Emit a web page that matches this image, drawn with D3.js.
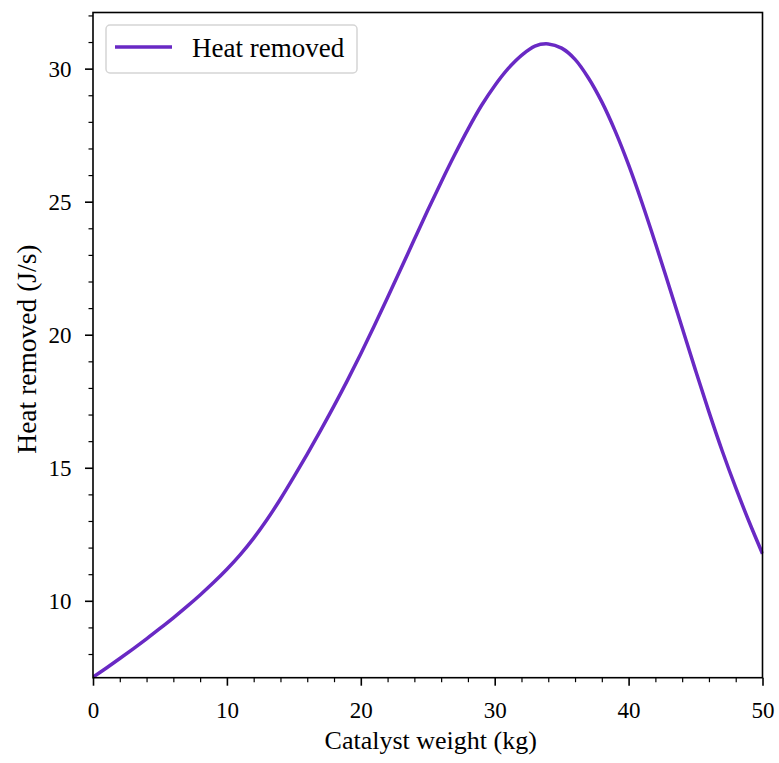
<!DOCTYPE html>
<html><head><meta charset="utf-8">
<script src="https://cdn.jsdelivr.net/npm/d3@7"></script>
<style>
body{margin:0;background:#fff}
svg{display:block}
text{font-family:"Liberation Serif","Times New Roman",serif;fill:#000}
</style>
</head><body>
<svg id="chart" width="779" height="763"></svg>
<script>
// ---- data ----
const catalystWeight = [0,1,2,3,4,5,6,7,8,9,10,11,12,13,14,15,16,17,18,19,20,21,22,23,24,25,
  26,27,28,29,30,31,32,33,34,35,36,37,38,39,40,41,42,43,44,45,46,47,48,49,50];
const heatRemoved = [7.13,7.475,7.83,8.195,8.57,8.96,9.36,9.78,10.22,10.685,11.185,11.735,12.355,13.055,13.825,14.655,
  15.515,16.405,17.325,18.285,19.285,20.325,21.395,22.485,23.585,24.675,25.735,26.755,27.72,28.605,29.36,30.0,30.5,
  30.85,30.93,30.77,30.35,29.65,28.75,27.65,26.38,24.96,23.44,21.86,20.26,18.66,17.1,15.62,14.25,12.97,11.77];
const xTicks = [0,10,20,30,40,50];
const xMinorTicks = [2,4,6,8,12,14,16,18,22,24,26,28,32,34,36,38,42,44,46,48];
const yTicks = [10,15,20,25,30];
const yMinorTicks = [8,9,11,12,13,14,16,17,18,19,21,22,23,24,26,27,28,29,31,32];
const seriesName = "Heat removed";
const xLabel = "Catalyst weight (kg)";
const yLabel = "Heat removed (J/s)";
const xDomain = [0,50];
const yDomain = [7.11,32.11];

// ---- layout ----
const L = 93, R = 762.5, T = 12.5, B = 677.7;
const lineColor = "#6929c4";
const svg = d3.select("#chart");

const x = d3.scaleLinear().domain(xDomain).range([L,R]);
const y = d3.scaleLinear().domain(yDomain).range([B,T]);

// clip
svg.append("defs").append("clipPath").attr("id","clip")
  .append("rect").attr("x",L).attr("y",T-2).attr("width",R-L+1).attr("height",B-T+3);

// line
const pts = catalystWeight.map((d,i)=>[d,heatRemoved[i]]);
const line = d3.line().x(d=>x(d[0])).y(d=>y(d[1])).curve(d3.curveCatmullRom.alpha(0.5));
svg.append("path").datum(pts)
  .attr("clip-path","url(#clip)")
  .attr("d",line).attr("fill","none")
  .attr("stroke",lineColor).attr("stroke-width",3.5).attr("stroke-linejoin","round");

// axes
function styleAxis(g, major){
  g.select(".domain").remove();
  g.selectAll(".tick line").attr("stroke","#000").attr("stroke-width", major?1.6:1.2);
}
const xAxis = svg.append("g").attr("transform",`translate(0,${B})`)
  .call(d3.axisBottom(x).tickValues(xTicks).tickSize(8).tickPadding(0).tickFormat(d3.format("d")));
styleAxis(xAxis,true);
xAxis.selectAll(".tick text").attr("font-size",23).attr("dy",null).attr("y",40)
  .attr("font-family",'"Liberation Serif",serif');
const xMinor = svg.append("g").attr("transform",`translate(0,${B})`)
  .call(d3.axisBottom(x).tickValues(xMinorTicks).tickSize(4.5).tickFormat(""));
styleAxis(xMinor,false);

const yAxis = svg.append("g").attr("transform",`translate(${L},0)`)
  .call(d3.axisLeft(y).tickValues(yTicks).tickSize(8).tickPadding(13.5).tickFormat(d3.format("d")));
styleAxis(yAxis,true);
yAxis.selectAll(".tick text").attr("font-size",23).attr("dy",null).attr("y",8)
  .attr("font-family",'"Liberation Serif",serif');
const yMinor = svg.append("g").attr("transform",`translate(${L},0)`)
  .call(d3.axisLeft(y).tickValues(yMinorTicks.filter(v=>v>=yDomain[0]&&v<=yDomain[1])).tickSize(4.5).tickFormat(""));
styleAxis(yMinor,false);

// frame
svg.append("rect").attr("x",L).attr("y",T).attr("width",R-L).attr("height",B-T)
  .attr("fill","none").attr("stroke","#000").attr("stroke-width",1.6);

// axis labels
svg.append("text").attr("x",(L+R)/2+3).attr("y",749).attr("text-anchor","middle")
  .attr("font-size",26).text(xLabel);
svg.append("text").attr("transform",`translate(36,${(T+B)/2+4}) rotate(-90)`)
  .attr("text-anchor","middle").attr("font-size",27.5).text(yLabel);

// legend
const lg = svg.append("g");
lg.append("rect").attr("x",106).attr("y",25).attr("width",251).attr("height",48).attr("rx",4)
  .attr("fill","#fff").attr("fill-opacity",0.8).attr("stroke","#d5d5d5").attr("stroke-width",1.5);
lg.append("line").attr("x1",115).attr("x2",172).attr("y1",47).attr("y2",47)
  .attr("stroke",lineColor).attr("stroke-width",3.5);
lg.append("text").attr("x",192).attr("y",57).attr("font-size",27).text(seriesName);
</script>
</body></html>
